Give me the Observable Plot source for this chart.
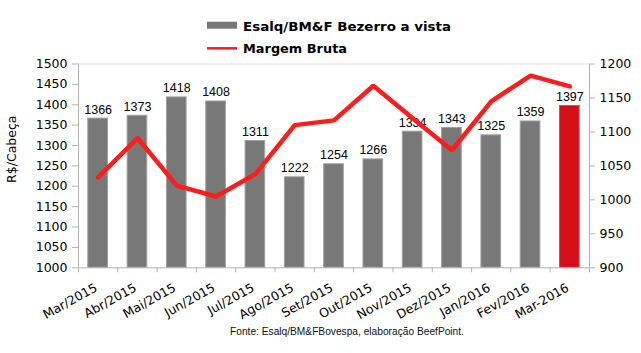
<!DOCTYPE html>
<html>
<head>
<meta charset="utf-8">
<script src="https://cdn.jsdelivr.net/npm/d3@7"></script>
<script src="https://cdn.jsdelivr.net/npm/@observablehq/plot@0.6"></script>
<style>
  body { margin: 0; background: #fff; }
  #wrap { position: relative; width: 641px; height: 353px; background: #fff; overflow: hidden; }
  #chart { position: absolute; left: 0; top: 40px; }
  #legend { position: absolute; left: 0; top: 0; }
  #caption { position: absolute; left: 0; top: 0; }
</style>
</head>
<body>
<div id="wrap">
  <div id="chart"></div>
  <svg id="legend" width="641" height="58"></svg>
  <svg id="caption" width="641" height="353" style="pointer-events:none"></svg>
</div>
<script>
const categories = ["Mar/2015","Abr/2015","Mai/2015","Jun/2015","Jul/2015","Ago/2015","Set/2015","Out/2015","Nov/2015","Dez/2015","Jan/2016","Fev/2016","Mar-2016"];
const bezerro = [1366,1373,1418,1408,1311,1222,1254,1266,1334,1343,1325,1359,1397];
const margem = [1033,1091,1021,1005,1038,1110,1117,1168,1120,1073,1145,1183,1167];
const leftTicks = [1000,1050,1100,1150,1200,1250,1300,1350,1400,1450,1500];
const rightTicks = [900,950,1000,1050,1100,1150,1200];
const seriesNames = ["Esalq/BM&F Bezerro a vista", "Margem Bruta"];
const yLabel = "R$/Cabeça";
const source = "Fonte: Esalq/BM&FBovespa, elaboração BeefPoint.";

const leftDomain = [1000, 1500];
const rightDomain = [900, 1200];
const toLeft = v => leftDomain[0] + (v - rightDomain[0]) * (leftDomain[1] - leftDomain[0]) / (rightDomain[1] - rightDomain[0]);
const toRight = v => rightDomain[0] + (v - leftDomain[0]) * (rightDomain[1] - rightDomain[0]) / (leftDomain[1] - leftDomain[0]);

const data = categories.map((c, i) => ({c, i, v: bezerro[i], m: margem[i]}));
const last = categories.length - 1;
const boundaries = categories.map((c, i) => i - 0.5).concat([last + 0.5]);
const indices = categories.map((c, i) => i);

const gray = "#787878", red = "#d30f18", lineRed = "#ff1c1c", axisGray = "#b3b3b3";
const verdana = "'DejaVu Sans', Verdana, sans-serif";
const arial = "'Liberation Sans', Arial, sans-serif";

const chart = Plot.plot({
  width: 641,
  height: 300,
  marginLeft: 78,
  marginRight: 52,
  marginTop: 23.5,
  marginBottom: 72.7,
  x: {domain: [-0.5, last + 0.5], axis: null},
  y: {domain: leftDomain, axis: null},
  style: {fontFamily: verdana, fontSize: "12.5px", color: "black", background: "transparent"},
  marks: [
    Plot.ruleY([leftDomain[1]], {stroke: "#e2e2e2"}),
    Plot.rectY(data, {
      x1: d => d.i - 0.25, x2: d => d.i + 0.25, y1: leftDomain[0], y2: "v",
      fill: d => d.i === last ? red : gray,
      stroke: d => d.i === last ? "#dd4a50" : "#a0a0a0",
      strokeWidth: 1
    }),
    Plot.ruleX([-0.5, last + 0.5], {stroke: axisGray}),
    Plot.ruleY([leftDomain[0]], {stroke: axisGray}),
    Plot.axisY(leftTicks, {anchor: "left", tickSize: 6, tickPadding: 5, stroke: axisGray, fill: "black", label: null,
      tickFormat: d => String(d), fontSize: 12.5, fontFamily: verdana}),
    Plot.axisY(rightTicks.map(toLeft), {anchor: "right", tickSize: 5, tickPadding: 5, stroke: axisGray, fill: "black", label: null,
      tickFormat: d => String(Math.round(toRight(d))), fontSize: 12.5, fontFamily: verdana}),
    Plot.axisX(boundaries, {tickSize: 5, stroke: axisGray, fill: "none", label: null}),
    Plot.axisX(indices, {tickSize: 0, tickPadding: 17, tickRotate: -29, dy: 2, dx: -2, stroke: "none", fill: "black", label: null,
      tickFormat: i => categories[i], fontSize: 12.5, fontFamily: verdana}),
    Plot.text(data, {x: "i", y: "v", text: d => String(d.v), dy: -5, lineAnchor: "bottom", fontFamily: arial, fontSize: 12.5, fill: "black"}),
    Plot.line(data, {x: "i", y: d => toLeft(d.m), stroke: lineRed, strokeWidth: 4.5, strokeLinejoin: "miter"}),
    Plot.text([yLabel], {text: d => d, frameAnchor: "left", rotate: -90, dx: -67, dy: 17, fontFamily: verdana, fontSize: 12.5, fill: "black"})
  ]
});
document.getElementById("chart").appendChild(chart);

// Legend
const lg = d3.select("#legend");
lg.append("rect").attr("x", 207).attr("y", 21.7).attr("width", 30).attr("height", 7).attr("fill", gray);
lg.append("line").attr("x1", 207).attr("x2", 237).attr("y1", 48.3).attr("y2", 48.3).attr("stroke", lineRed).attr("stroke-width", 2.5);
lg.append("text").attr("x", 243).attr("y", 30.7).attr("font-family", verdana).attr("font-weight", "bold").attr("font-size", 12.5)
  .attr("textLength", 208).attr("lengthAdjust", "spacingAndGlyphs").text(seriesNames[0]);
lg.append("text").attr("x", 243).attr("y", 52.7).attr("font-family", verdana).attr("font-weight", "bold").attr("font-size", 12.5)
  .attr("textLength", 104).attr("lengthAdjust", "spacingAndGlyphs").text(seriesNames[1]);

// Caption
d3.select("#caption").append("text").attr("x", 347).attr("y", 335.3).attr("text-anchor", "middle")
  .attr("font-family", arial).attr("font-size", 10.2).attr("fill", "#111").text(source);
</script>
</body>
</html>
